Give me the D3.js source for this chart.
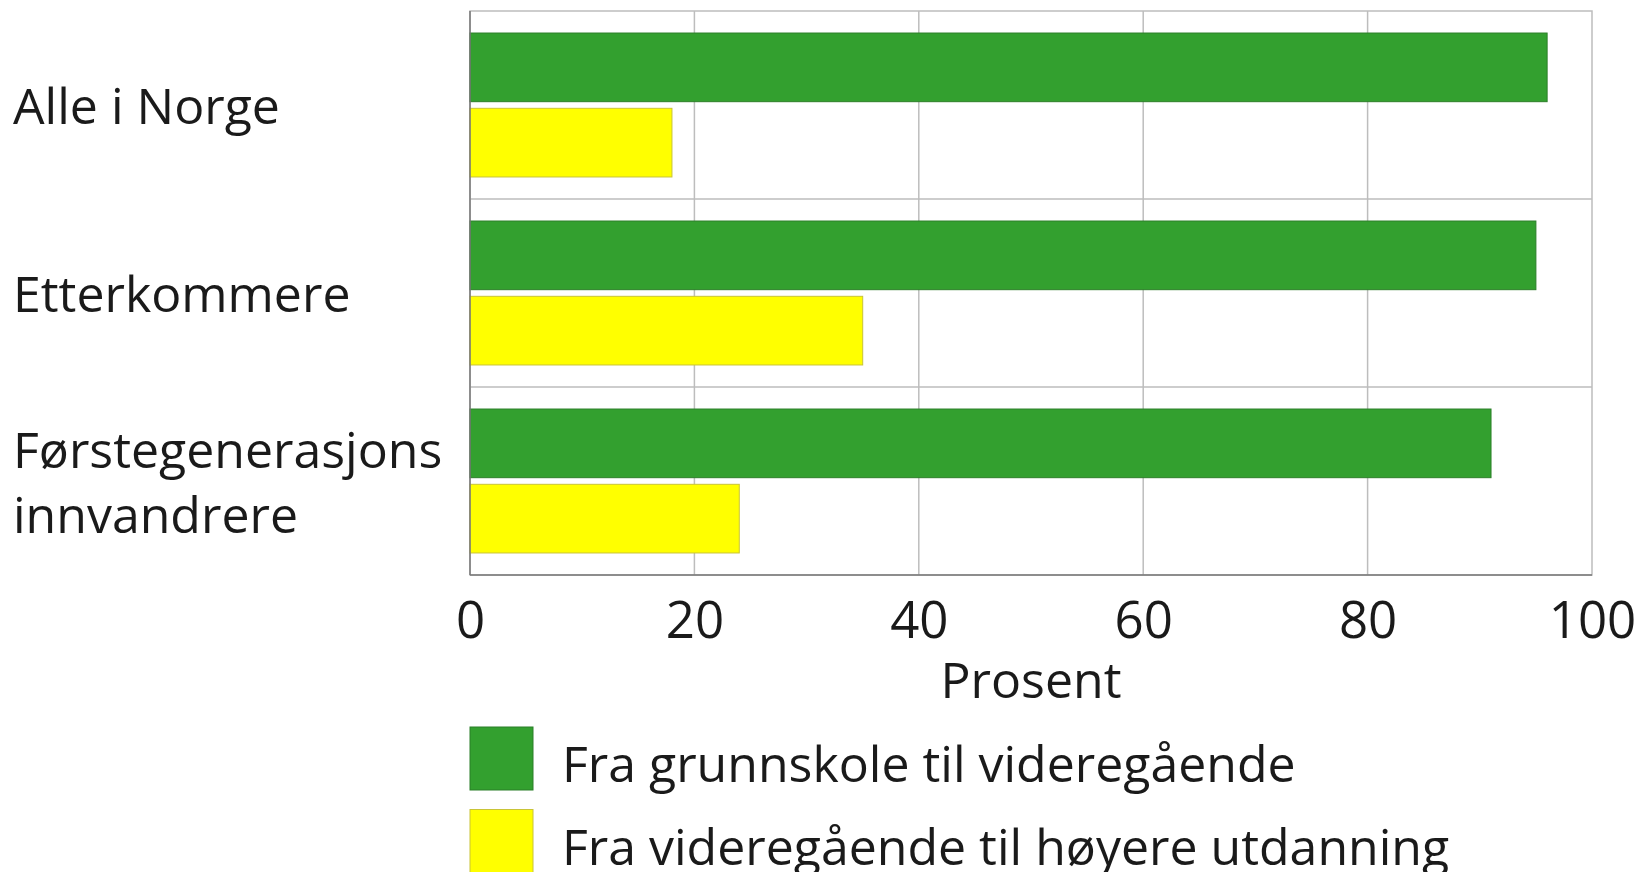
<!DOCTYPE html>
<html>
<head>
<meta charset="utf-8">
<script src="https://cdn.jsdelivr.net/npm/d3@7"></script>
<style>
  body { margin: 0; background: #fff; }
  svg text { font-family: "Open Sans", "Noto Sans", sans-serif; font-weight: 400; fill: #1a1a1a; }
</style>
</head>
<body>
<svg width="1646" height="872"></svg>
<script>
// data
var categories = [["Alle i Norge"], ["Etterkommere"], ["Førstegenerasjons", "innvandrere"]];
var series = ["Fra grunnskole til videregående", "Fra videregående til høyere utdanning"];
var grunnskole = [96, 95, 91];
var videregaende = [18, 35, 24];
var xTicks = [0, 20, 40, 60, 80, 100];
var colors = ["#33a02f", "#ffff00"];
var strokes = ["#2b7f28", "#c9c437"];

var svg = d3.select("svg");
var plotL = 470, plotR = 1592, plotT = 11, plotB = 575;

var x = d3.scaleLinear().domain([0, 100]).range([plotL, plotR]);
var y = d3.scaleBand().domain(d3.range(categories.length)).range([plotT, plotB]);
var ys = d3.scaleBand().domain([0, 1]).range([0, y.bandwidth()])
  .paddingInner(0.088).paddingOuter(0.2925);

// grid
var grid = svg.append("g");
grid.selectAll("line.v")
  .data(xTicks.slice(1, -1))
  .enter().append("line")
  .attr("x1", d => x(d)).attr("x2", d => x(d))
  .attr("y1", plotT).attr("y2", plotB)
  .attr("stroke", "#bdbdbd").attr("stroke-width", 1.5);
grid.selectAll("line.h")
  .data(d3.range(1, categories.length))
  .enter().append("line")
  .attr("x1", plotL).attr("x2", plotR)
  .attr("y1", d => y(d)).attr("y2", d => y(d))
  .attr("stroke", "#bdbdbd").attr("stroke-width", 1.5);
grid.append("rect")
  .attr("x", plotL).attr("y", plotT)
  .attr("width", plotR - plotL).attr("height", plotB - plotT)
  .attr("fill", "none").attr("stroke", "#bdbdbd").attr("stroke-width", 1.5);

// bars
var vals = [grunnskole, videregaende];
vals.forEach(function(v, s) {
  svg.append("g").selectAll("rect")
    .data(v)
    .enter().append("rect")
    .attr("x", x(0))
    .attr("y", (d, i) => y(i) + ys(s))
    .attr("width", d => x(d) - x(0))
    .attr("height", ys.bandwidth())
    .attr("fill", colors[s])
    .attr("stroke", strokes[s]).attr("stroke-width", 1);
});

// axes lines (left + bottom darker)
svg.append("line").attr("x1", plotL).attr("x2", plotL).attr("y1", plotT).attr("y2", plotB)
  .attr("stroke", "#777").attr("stroke-width", 1.5);
svg.append("line").attr("x1", plotL).attr("x2", plotR).attr("y1", plotB).attr("y2", plotB)
  .attr("stroke", "#777").attr("stroke-width", 1.5);

// x axis labels
var xAxis = svg.append("g")
  .attr("transform", "translate(0," + plotB + ")")
  .call(d3.axisBottom(x).tickValues(xTicks).tickSize(0).tickPadding(0));
xAxis.select(".domain").remove();
xAxis.attr("font-family", null).attr("font-size", null);
xAxis.selectAll("text")
  .attr("y", 63).attr("dy", null)
  .style("font-size", "51px");

svg.append("text")
  .attr("x", (plotL + plotR) / 2).attr("y", 698)
  .attr("text-anchor", "middle")
  .style("font-size", "50px")
  .text("Prosent");

// category labels
var labels = svg.append("g").selectAll("text")
  .data(categories)
  .enter().append("text")
  .attr("x", 13)
  .style("font-size", "50px");
labels.each(function(lines, i) {
  var t = d3.select(this);
  var cy = y(i) + y.bandwidth() / 2;
  var lh = 65;
  lines.forEach(function(l, k) {
    t.append("tspan")
      .attr("x", 13)
      .attr("y", cy + 19 + (k - (lines.length - 1) / 2) * lh)
      .text(l);
  });
});

// legend
var leg = svg.append("g").selectAll("g")
  .data(series)
  .enter().append("g")
  .attr("transform", (d, i) => "translate(470," + (727 + i * 82.5) + ")");
leg.append("rect")
  .attr("width", 63).attr("height", 63)
  .attr("fill", (d, i) => colors[i])
  .attr("stroke", (d, i) => strokes[i]).attr("stroke-width", 1);
leg.append("text")
  .attr("x", 92).attr("y", 55)
  .style("font-size", "50px")
  .text(d => d);
</script>
</body>
</html>
